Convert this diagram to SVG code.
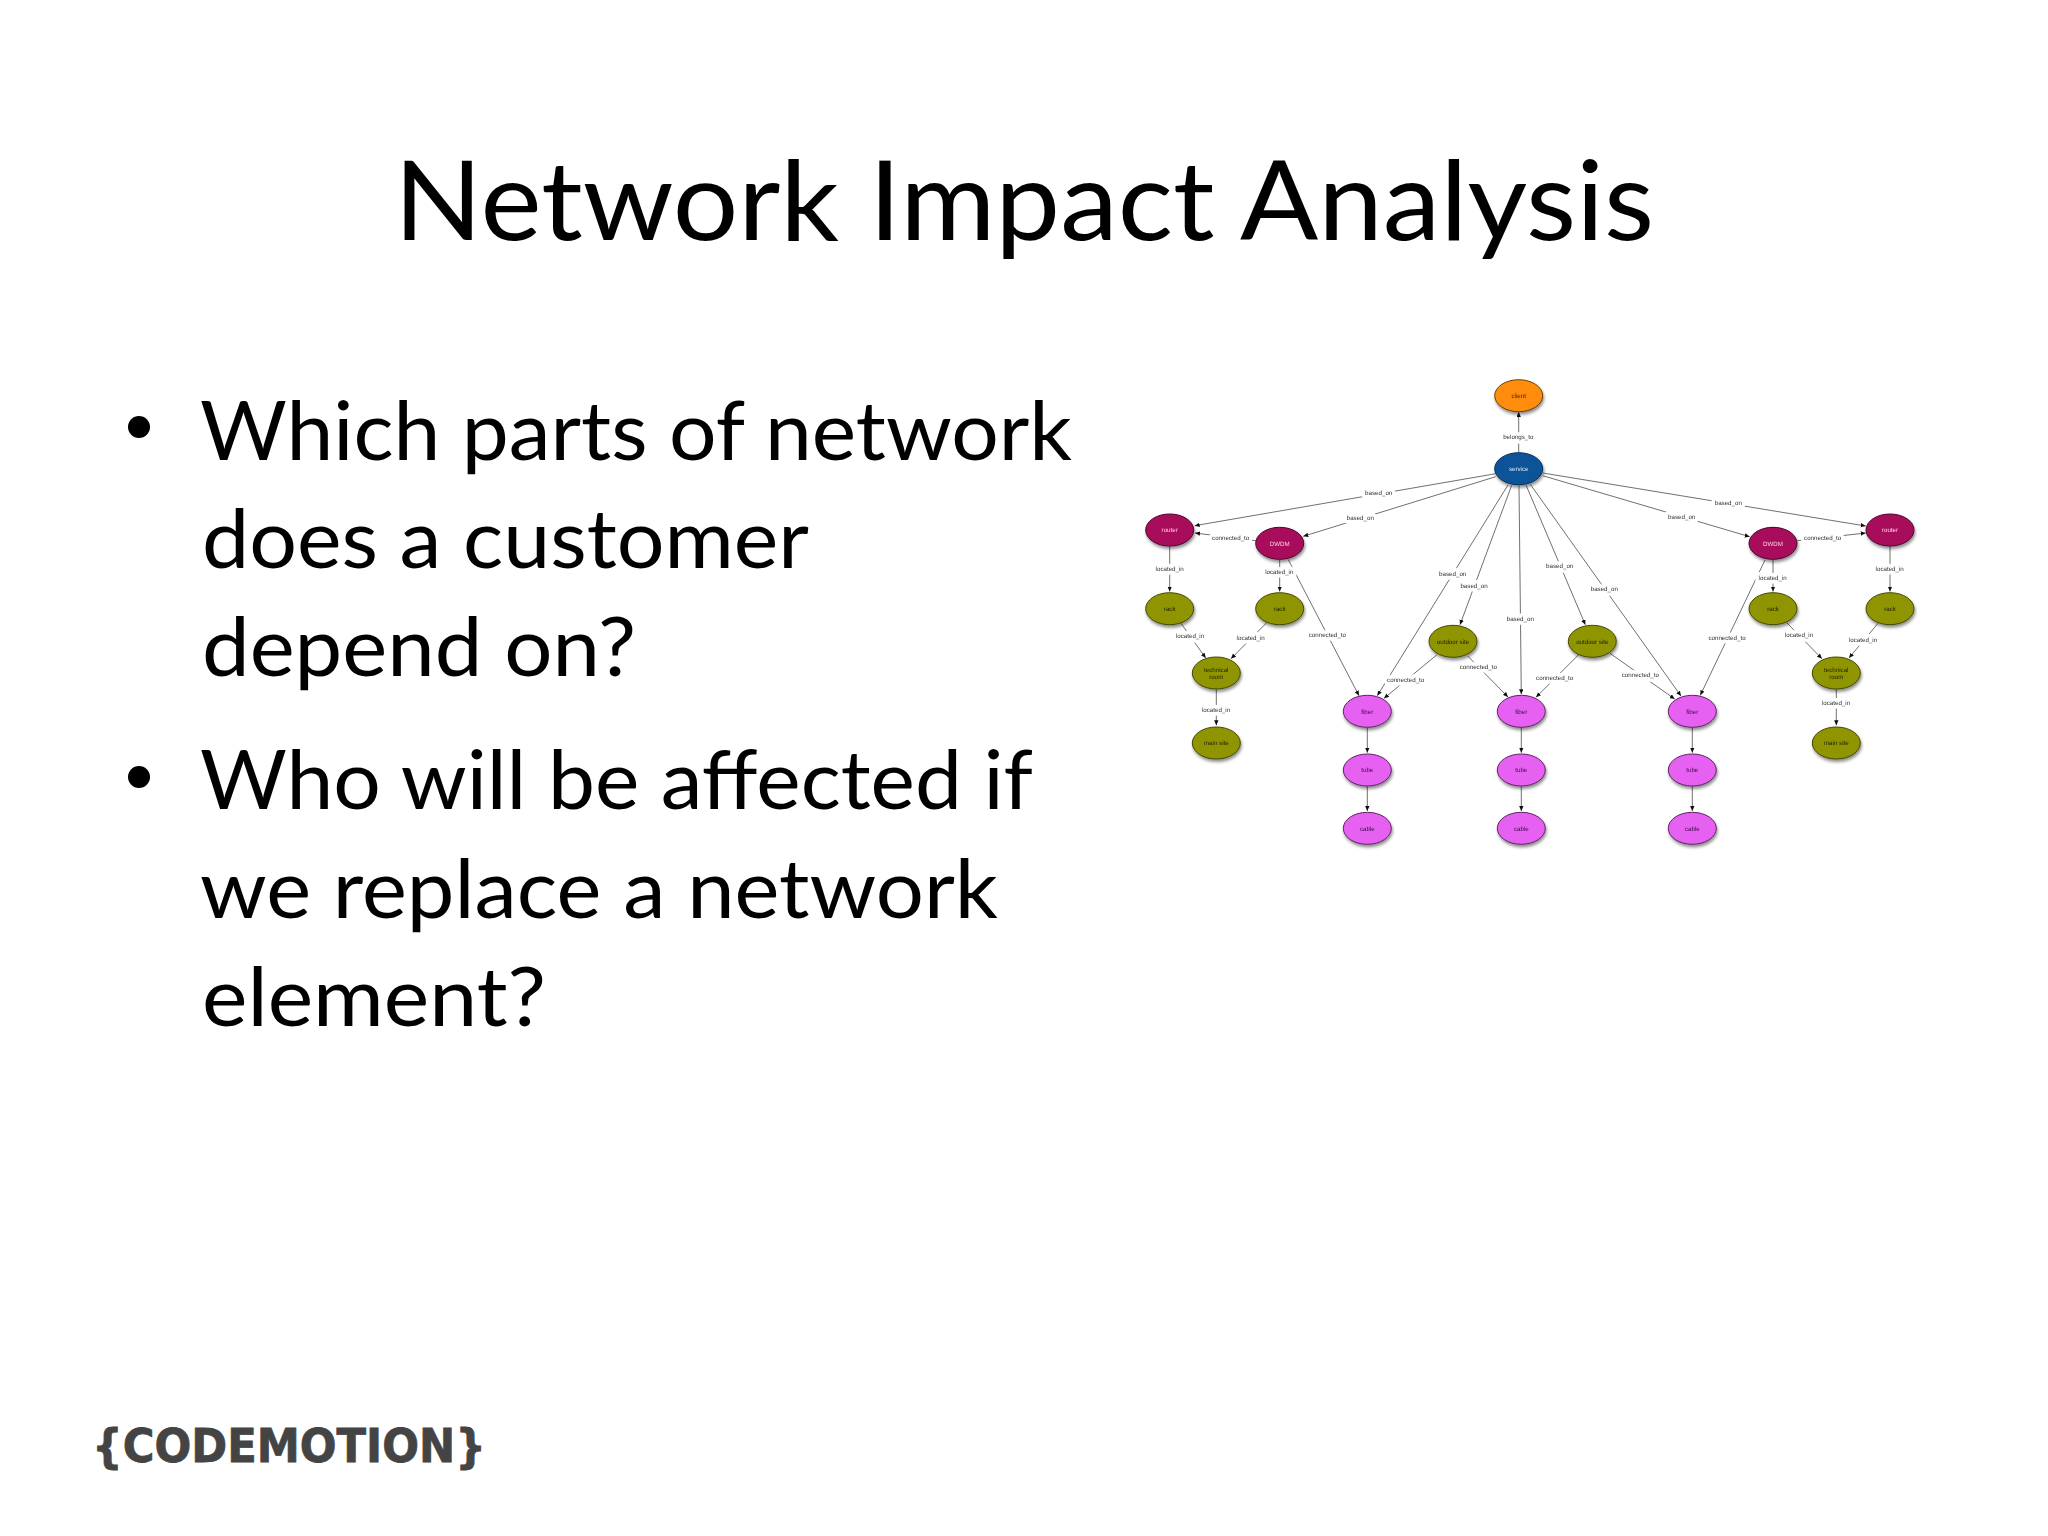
<svg xmlns="http://www.w3.org/2000/svg" width="2048" height="1536" viewBox="0 0 2048 1536">
<style>
.t{font-family:"Lato","Carlito","Noto Sans",sans-serif;fill:#000}
.h{font-size:110px}.b{font-size:81px}
.n ellipse{stroke-width:1}
.n text{font:6.2px "Liberation Sans",Arial,sans-serif;text-anchor:middle;text-rendering:geometricPrecision}
.cl ellipse{fill:#ff8c0a;stroke:#6a4000}.cl text{fill:#4a2a00}
.sv ellipse{fill:#0b5398;stroke:#06305c}.sv text{fill:#d8eaff}
.rt ellipse{fill:#a80a5c;stroke:#50062e}.rt text{fill:#ffd0ea}
.ol ellipse{fill:#8f9500;stroke:#454800}.ol text{fill:#222400}
.pk ellipse{fill:#e661f2;stroke:#5c2560}.pk text{fill:#400a4c}
#connectors line{stroke:#606060;stroke-width:.9;marker-end:url(#a)}
#connectors text{font:6.2px "Liberation Sans",Arial,sans-serif;text-anchor:middle;text-rendering:geometricPrecision;fill:#333;stroke:#fff;stroke-width:7;stroke-linejoin:round;paint-order:stroke}
.lg{font-family:"DejaVu Sans",sans-serif;font-weight:700;font-size:47px;fill:#444;stroke:#444;stroke-width:.8;text-transform:uppercase}
</style>
<defs>
<marker id="a" markerUnits="userSpaceOnUse" markerWidth="6" markerHeight="5" refX="5" refY="2.2" orient="auto"><path d="M0 0L5 2.2L0 4.4Z" fill="#111"/></marker>
<filter id="s" x="-20%" y="-20%" width="140%" height="150%"><feDropShadow dx="1" dy="2.5" stdDeviation="1.6" flood-color="#000" flood-opacity=".45"/><feGaussianBlur stdDeviation=".3"/></filter>
<filter id="c" x="0" y="0" width="100%" height="100%"><feGaussianBlur stdDeviation=".3"/></filter>
</defs>
<rect width="2048" height="1536" fill="#fff"/>
<text class="t h" x="394" y="240" textLength="1260" lengthAdjust="spacingAndGlyphs">Network Impact Analysis</text>
<g id="bullets">
<circle cx="139" cy="427" r="11"/><circle cx="139" cy="777" r="11"/>
<text class="t b" x="200" y="459.5" textLength="872" lengthAdjust="spacingAndGlyphs">Which parts of network</text>
<text class="t b" x="202" y="568" textLength="607" lengthAdjust="spacingAndGlyphs">does a customer</text>
<text class="t b" x="202" y="676" textLength="434" lengthAdjust="spacingAndGlyphs">depend on?</text>
<text class="t b" x="200" y="809" textLength="833" lengthAdjust="spacingAndGlyphs">Who will be affected if</text>
<text class="t b" x="200" y="917.5" textLength="798" lengthAdjust="spacingAndGlyphs">we replace a network</text>
<text class="t b" x="202" y="1025.5" textLength="344" lengthAdjust="spacingAndGlyphs">element?</text>
</g>
<g id="connectors" filter="url(#c)">
<line x1="1518.7" y1="452.7" x2="1518.7" y2="412"/>
<line x1="1495.7" y1="473.7" x2="1194.7" y2="525.7"/>
<line x1="1495.7" y1="476.7" x2="1303.3" y2="536.3"/>
<line x1="1508" y1="485" x2="1377.3" y2="695.7"/>
<line x1="1511.7" y1="485.3" x2="1460" y2="624.7"/>
<line x1="1519" y1="485.3" x2="1521.3" y2="694.3"/>
<line x1="1526" y1="485" x2="1585.3" y2="624.7"/>
<line x1="1530.3" y1="484.3" x2="1681" y2="696"/>
<line x1="1542.7" y1="475.7" x2="1749.7" y2="536.7"/>
<line x1="1542.7" y1="473" x2="1865.7" y2="526"/>
<line x1="1256" y1="540.7" x2="1195" y2="533"/>
<line x1="1797.3" y1="540.7" x2="1865.7" y2="533"/>
<line x1="1169.7" y1="546.3" x2="1169.7" y2="591.5"/>
<line x1="1279.7" y1="559.7" x2="1279.7" y2="591.5"/>
<line x1="1288.3" y1="559.7" x2="1359" y2="695.7"/>
<line x1="1181" y1="623.3" x2="1205.7" y2="658"/>
<line x1="1266.7" y1="622.7" x2="1231" y2="658.7"/>
<line x1="1216.3" y1="689" x2="1216.3" y2="725.3"/>
<line x1="1436.7" y1="655" x2="1384" y2="698.3"/>
<line x1="1467.7" y1="656" x2="1508" y2="697"/>
<line x1="1578.3" y1="655" x2="1536" y2="697.3"/>
<line x1="1610" y1="653.3" x2="1674.7" y2="699"/>
<line x1="1765" y1="560" x2="1700.3" y2="695.3"/>
<line x1="1773" y1="560" x2="1773" y2="591.5"/>
<line x1="1890" y1="546" x2="1890" y2="591.5"/>
<line x1="1786.7" y1="622.7" x2="1822" y2="658.7"/>
<line x1="1878" y1="623.3" x2="1849" y2="658"/>
<line x1="1836.3" y1="689" x2="1836.3" y2="725.3"/>
<line x1="1367.3" y1="727.6" x2="1367.3" y2="752.7"/><line x1="1367.3" y1="786" x2="1367.3" y2="811"/>
<line x1="1521.3" y1="727.6" x2="1521.3" y2="752.7"/><line x1="1521.3" y1="786" x2="1521.3" y2="811"/>
<line x1="1692.3" y1="727.6" x2="1692.3" y2="752.7"/><line x1="1692.3" y1="786" x2="1692.3" y2="811"/>
<text x="1518.3" y="439">belongs_to</text>
<text x="1378.7" y="495.4">based_on</text>
<text x="1360.3" y="520.4">based_on</text>
<text x="1230.7" y="539.8">connected_to</text>
<text x="1169.7" y="571.4">located_in</text>
<text x="1279.3" y="573.8">located_in</text>
<text x="1327.3" y="637.4">connected_to</text>
<text x="1452.7" y="576.1">based_on</text>
<text x="1474" y="587.8">based_on</text>
<text x="1520.3" y="621.1">based_on</text>
<text x="1190" y="638.4">located_in</text>
<text x="1250.7" y="640.1">located_in</text>
<text x="1216" y="711.8">located_in</text>
<text x="1405.7" y="682.1">connected_to</text>
<text x="1478.3" y="669.4">connected_to</text>
<text x="1554.7" y="680.4">connected_to</text>
<text x="1640.3" y="677.1">connected_to</text>
<text x="1559.7" y="567.8">based_on</text>
<text x="1604.3" y="590.8">based_on</text>
<text x="1681.7" y="519.1">based_on</text>
<text x="1728.3" y="505.4">based_on</text>
<text x="1822.7" y="540.1">connected_to</text>
<text x="1772.7" y="580.1">located_in</text>
<text x="1889.7" y="570.8">located_in</text>
<text x="1727" y="640.4">connected_to</text>
<text x="1799" y="637.4">located_in</text>
<text x="1863" y="642.4">located_in</text>
<text x="1836" y="705.4">located_in</text>
</g>
<g id="nodes" filter="url(#s)">
<g id="client" class="n cl"><ellipse cx="1518.7" cy="395.7" rx="24" ry="16"/><text x="1518.7" y="398">client</text></g>
<g id="service" class="n sv"><ellipse cx="1518.7" cy="468.7" rx="24" ry="16"/><text x="1518.7" y="471">service</text></g>
<g id="routerL" class="n rt"><ellipse cx="1169.7" cy="530" rx="24" ry="16"/><text x="1169.7" y="532.2">router</text></g>
<g id="dwdmL" class="n rt"><ellipse cx="1279.7" cy="543.3" rx="24" ry="16"/><text x="1279.7" y="545.5">DWDM</text></g>
<g id="rackL1" class="n ol"><ellipse cx="1169.7" cy="608.7" rx="24" ry="16"/><text x="1169.7" y="611">rack</text></g>
<g id="rackL2" class="n ol"><ellipse cx="1279.7" cy="608.7" rx="24" ry="16"/><text x="1279.7" y="611">rack</text></g>
<g id="techL" class="n ol"><ellipse cx="1216.3" cy="673" rx="24" ry="16"/><text x="1216.3" y="671.5">technical</text><text x="1216.3" y="678.5">room</text></g>
<g id="mainL" class="n ol"><ellipse cx="1216.3" cy="743" rx="24" ry="16"/><text x="1216.3" y="745">main site</text></g>
<g id="outdoorL" class="n ol"><ellipse cx="1453" cy="641.3" rx="24" ry="16"/><text x="1453" y="643.5">outdoor site</text></g>
<g id="outdoorR" class="n ol"><ellipse cx="1592.3" cy="641.3" rx="24" ry="16"/><text x="1592.3" y="643.5">outdoor site</text></g>
<g id="dwdmR" class="n rt"><ellipse cx="1773" cy="543.3" rx="24" ry="16"/><text x="1773" y="545.5">DWDM</text></g>
<g id="routerR" class="n rt"><ellipse cx="1890" cy="530" rx="24" ry="16"/><text x="1890" y="532.2">router</text></g>
<g id="rackR1" class="n ol"><ellipse cx="1773" cy="608.7" rx="24" ry="16"/><text x="1773" y="611">rack</text></g>
<g id="rackR2" class="n ol"><ellipse cx="1890" cy="608.7" rx="24" ry="16"/><text x="1890" y="611">rack</text></g>
<g id="techR" class="n ol"><ellipse cx="1836.3" cy="673" rx="24" ry="16"/><text x="1836.3" y="671.5">technical</text><text x="1836.3" y="678.5">room</text></g>
<g id="mainR" class="n ol"><ellipse cx="1836.3" cy="743" rx="24" ry="16"/><text x="1836.3" y="745">main site</text></g>
<g id="fiberL" class="n pk"><ellipse cx="1367.3" cy="711.3" rx="24" ry="16"/><text x="1367.3" y="713.5">fiber</text></g>
<g id="tubeL" class="n pk"><ellipse cx="1367.3" cy="770" rx="24" ry="16"/><text x="1367.3" y="772.2">tube</text></g>
<g id="cableL" class="n pk"><ellipse cx="1367.3" cy="828.3" rx="24" ry="16"/><text x="1367.3" y="830.5">cable</text></g>
<g id="fiberM" class="n pk"><ellipse cx="1521.3" cy="711.3" rx="24" ry="16"/><text x="1521.3" y="713.5">fiber</text></g>
<g id="tubeM" class="n pk"><ellipse cx="1521.3" cy="770" rx="24" ry="16"/><text x="1521.3" y="772.2">tube</text></g>
<g id="cableM" class="n pk"><ellipse cx="1521.3" cy="828.3" rx="24" ry="16"/><text x="1521.3" y="830.5">cable</text></g>
<g id="fiberR" class="n pk"><ellipse cx="1692.3" cy="711.3" rx="24" ry="16"/><text x="1692.3" y="713.5">fiber</text></g>
<g id="tubeR" class="n pk"><ellipse cx="1692.3" cy="770" rx="24" ry="16"/><text x="1692.3" y="772.2">tube</text></g>
<g id="cableR" class="n pk"><ellipse cx="1692.3" cy="828.3" rx="24" ry="16"/><text x="1692.3" y="830.5">cable</text></g>
</g>
<g id="logo">
<text class="lg" x="92" y="1462" textLength="394" lengthAdjust="spacingAndGlyphs">{codemotion}</text>
</g>
</svg>
